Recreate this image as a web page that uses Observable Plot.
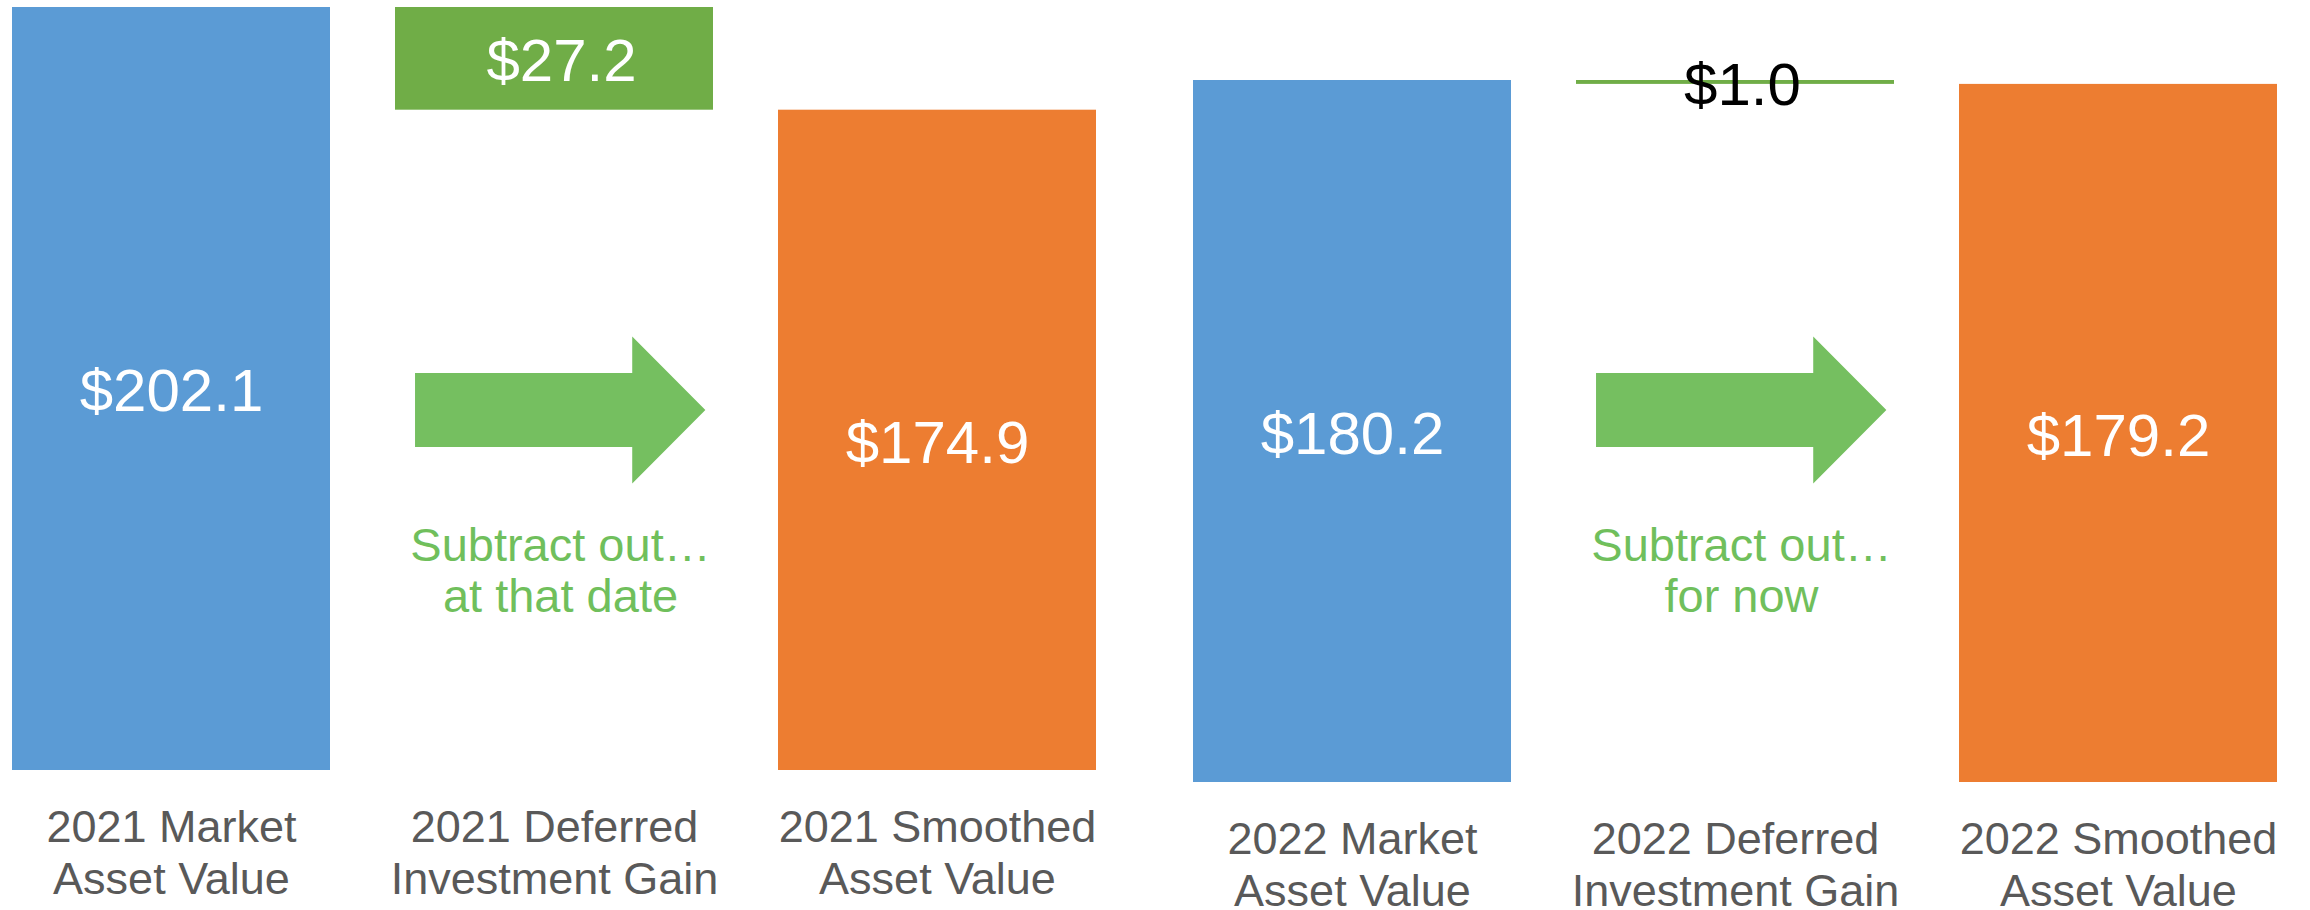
<!DOCTYPE html>
<html>
<head>
<meta charset="utf-8">
<script src="https://cdn.jsdelivr.net/npm/d3@7"></script>
<script src="https://cdn.jsdelivr.net/npm/@observablehq/plot@0.6"></script>
<style>
  html, body { margin: 0; padding: 0; background: #ffffff; }
  #chart { display: flex; flex-direction: row; width: 2310px; height: 910px; }
</style>
</head>
<body>
<div id="chart"></div>
<script>
// ---- data ----
const years = ["2021", "2022"];
const marketValues = [202.1, 180.2];
const deferredGains = [27.2, 1.0];
const smoothedValues = [174.9, 179.2];
const stepKeys = ["market", "deferred", "smoothed"];
const labelLine1 = ["Market", "Deferred", "Smoothed"];
const labelLine2 = ["Asset Value", "Investment Gain", "Asset Value"];
const notes = ["Subtract out…\nat that date", "Subtract out…\nfor now"];

// ---- styling / layout ----
const colors = { market: "#5B9BD5", deferred: "#70AD47", smoothed: "#ED7D31" };
const arrowColor = "#75BF60";
const noteColor = "#70BF5C";
const labelColor = "#595959";
const font = "'Liberation Sans', Arial, sans-serif";
const panels = [
  { width: 1150, marginLeft: 12, marginRight: 54, marginTop: 7, marginBottom: 140 },
  { width: 1160, marginLeft: 42, marginRight: 32, marginTop: 80, marginBottom: 128 }
];
const noteCenterY = 570;
const arrowCenterY = 410;

function blockArrow(cat) {
  return (index, scales) => {
    const x = scales.x;
    const bw = x.bandwidth ? x.bandwidth() : scales.scales.x.bandwidth;
    const x0 = x(cat);
    const sx = x0 + 0.063 * bw, hx = x0 + 0.746 * bw, tx = x0 + 0.976 * bw;
    const cy = arrowCenterY, sh = 37, hh = 73.5;
    const p = d3.path();
    p.moveTo(sx, cy - sh); p.lineTo(hx, cy - sh); p.lineTo(hx, cy - hh);
    p.lineTo(tx, cy); p.lineTo(hx, cy + hh); p.lineTo(hx, cy + sh);
    p.lineTo(sx, cy + sh); p.closePath();
    return d3.create("svg:path").attr("d", p.toString()).attr("fill", arrowColor).node();
  };
}

years.forEach((year, i) => {
  const P = panels[i];
  const market = marketValues[i], gain = deferredGains[i], smoothed = smoothedValues[i];
  const rows = [
    { step: "market", y1: 0, y2: market, v: market },
    { step: "deferred", y1: market - gain, y2: market, v: gain },
    { step: "smoothed", y1: 0, y2: smoothed, v: smoothed }
  ];
  const tick = (k) => {
    const j = stepKeys.indexOf(k);
    return `${year} ${labelLine1[j]}\n${labelLine2[j]}`;
  };
  const chart = Plot.plot({
    width: P.width,
    height: 910,
    marginLeft: P.marginLeft,
    marginRight: P.marginRight,
    marginTop: P.marginTop,
    marginBottom: P.marginBottom,
    style: { fontFamily: font, background: "white", overflow: "visible" },
    x: { domain: stepKeys, paddingInner: 0.17, paddingOuter: 0 },
    y: { domain: [0, market], axis: null },
    marks: [
      Plot.barY(rows, { x: "step", y1: "y1", y2: "y2", fill: (d) => colors[d.step] }),
      Plot.text(rows.filter((d) => d.step !== "deferred"), {
        x: "step",
        y: (d) => (d.y1 + d.y2) / 2,
        text: (d) => "$" + d.v.toFixed(1),
        fill: "#FFFFFF",
        fontSize: 60,
        dy: 3
      }),
      Plot.text(rows.filter((d) => d.step === "deferred"), {
        x: "step",
        y: (d) => (d.y1 + d.y2) / 2,
        text: (d) => "$" + d.v.toFixed(1),
        fill: (d) => (d.v < 5 ? "#000000" : "#FFFFFF"),
        fontSize: 60,
        dx: 7,
        dy: 3
      }),
      blockArrow("deferred"),
      Plot.text([notes[i]], {
        x: () => "deferred",
        text: (d) => d,
        frameAnchor: "top",
        lineAnchor: "middle",
        dy: noteCenterY - P.marginTop,
        dx: 6,
        fontSize: 47,
        lineHeight: 1.07,
        fill: noteColor
      }),
      Plot.axisX({
        tickSize: 0,
        tickPadding: 35,
        fontSize: 45,
        lineHeight: 1.15,
        color: labelColor,
        tickFormat: tick,
        label: null
      })
    ]
  });
  document.getElementById("chart").appendChild(chart);
});
</script>
</body>
</html>
